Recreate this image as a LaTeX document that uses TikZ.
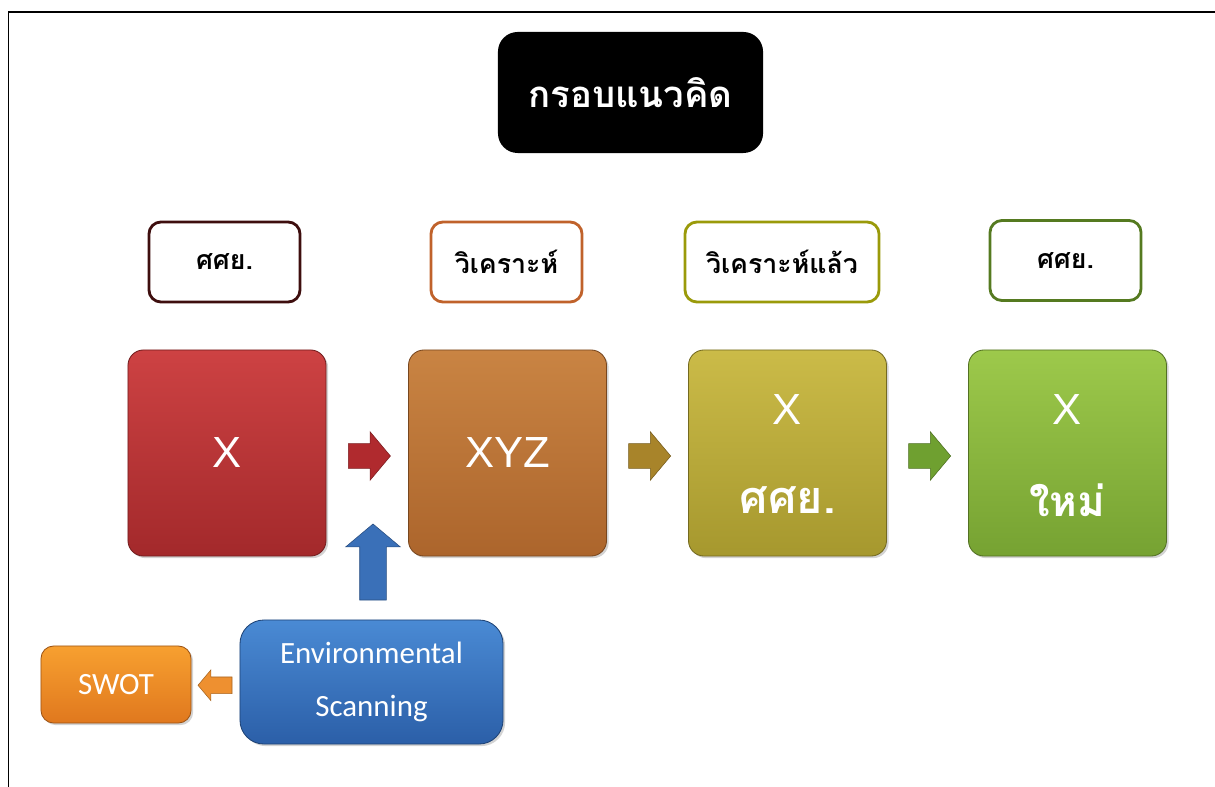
\documentclass[tikz,border=0pt]{standalone}
\usepackage{fontspec}
\setmainfont{Liberation Sans}
\newfontfamily\thaifont[Script=Thai]{Loma}
\newfontfamily\calfont{Carlito}
\usetikzlibrary{shapes.arrows,shadows,calc}

\definecolor{tagA}{HTML}{3E0E0E}
\definecolor{tagB}{HTML}{C0622B}
\definecolor{tagC}{HTML}{9A9A0A}
\definecolor{tagD}{HTML}{557A20}
\definecolor{redT}{HTML}{CD4243}
\definecolor{redB}{HTML}{A3292B}
\definecolor{oraT}{HTML}{C98443}
\definecolor{oraB}{HTML}{AC652C}
\definecolor{olvT}{HTML}{CBBB48}
\definecolor{olvB}{HTML}{A6982E}
\definecolor{grnT}{HTML}{9DC94B}
\definecolor{grnB}{HTML}{76A232}
\definecolor{bluT}{HTML}{4A8AD4}
\definecolor{bluB}{HTML}{2B5FA8}
\definecolor{swoT}{HTML}{F7A030}
\definecolor{swoB}{HTML}{E0781E}
\definecolor{redA}{HTML}{B02A2E}
\definecolor{olvA}{HTML}{A8842A}
\definecolor{grnA}{HTML}{6FA030}
\definecolor{bluA}{HTML}{3A70B8}
\definecolor{swoA}{HTML}{EE9030}

\begin{document}
\begin{tikzpicture}[x=0.025cm, y=-0.025cm,
    tagbox/.style = {draw=#1, line width=2pt, fill=white, rounded corners=8.5pt,
                minimum width=3.775cm, minimum height=2cm, inner sep=0pt,
                font=\thaifont\bfseries\fontsize{19}{22}\selectfont},
    tile/.style 2 args = {top color=#1, bottom color=#2, draw=#2!70!black,
                line width=0.6pt, rounded corners=11pt,
                minimum width=4.95cm, minimum height=5.15cm, inner sep=0pt,
                text=white, font=\fontsize{31}{34}\selectfont,
                drop shadow={opacity=0.35, shadow xshift=1.5pt, shadow yshift=-1.5pt}},
    flow/.style = {single arrow, fill=#1, draw=#1!70!black, line width=0.4pt,
                minimum height=1.05cm, inner sep=0.3cm,
                single arrow head extend=0.3cm, single arrow tip angle=100},
    word/.style = {text=white, inner sep=0pt}
                    ]
        \useasboundingbox (0,0) rectangle (1215,787);
        % frame
        \draw [line width=1.4pt] (8.5,787) -- (8.5,12) -- (1215,12);
        % title
        \node[fill=black, rounded corners=14pt, minimum width=6.625cm,
              minimum height=3.025cm, text=white,
              font=\thaifont\bfseries\fontsize{26}{30}\selectfont] (title) at (630.5,92.5) {กรอบแนวคิด};
        % tags above the steps
        \node[tagbox=tagA] (tag1) at (224.5,262) {ศศย.};
        \node[tagbox=tagB] (tag2) at (506.5,262) {วิเคราะห์};
        \node[tagbox=tagC, minimum width=4.85cm] (tag3) at (782,262) {วิเคราะห์แล้ว};
        \node[tagbox=tagD] (tag4) at (1065.5,260.5) {ศศย.};
        % steps
        \node[tile={redT}{redB}] (sq1) at (227,453) {};
        \node[tile={oraT}{oraB}] (sq2) at (507.5,453) {};
        \node[tile={olvT}{olvB}] (sq3) at (787.5,453) {};
        \node[tile={grnT}{grnB}] (sq4) at (1067.5,453) {};
        \node[word, font=\fontsize{31}{34}\selectfont] (x1) at (sq1) {X};
        \node[word, font=\fontsize{31}{34}\selectfont] (x2) at (sq2) {XYZ};
        \foreach \s in {3,4}
            \node[word, font=\fontsize{31}{34}\selectfont] (x\s) at ([yshift=1.075cm]sq\s.center) {X};
        \node[word, font=\thaifont\bfseries\fontsize{32}{34}\selectfont] (t3) at ([yshift=-1.175cm]sq3.center) {ศศย.};
        \node[word, font=\thaifont\bfseries\fontsize{30}{32}\selectfont] (t4) at ([yshift=-1.175cm]sq4.center) {ใหม่};
        % block arrows between steps
        \node[flow=redA] (a12) at ($(sq1.east)!0.5!(sq2.west)+(-3,3)$) {};
        \node[flow=olvA] (a23) at ($(sq2.east)!0.5!(sq3.west)+(-3,3)$) {};
        \node[flow=grnA] (a34) at ($(sq3.east)!0.5!(sq4.west)+(-3,3)$) {};
        % scanning
        \node[tile={bluT}{bluB}, minimum width=6.575cm, minimum height=3.1cm,
              rounded corners=17pt, align=center,
              font=\calfont\fontsize{22}{38}\selectfont] (env) at (371.5,682) {Environmental\\Scanning};
        \node[tile={swoT}{swoB}, minimum width=3.75cm, minimum height=1.925cm,
              rounded corners=9pt, font=\calfont\fontsize{22}{26}\selectfont] (swot) at (116,684.5) {SWOT};
        \node[flow=bluA, rotate=90, minimum height=1.9cm, inner sep=0.325cm,
              single arrow head extend=0.35cm] (up) at ($(env.north)+(1.5,-52)$) {};
        \node[flow=swoA, rotate=180, minimum height=0.85cm, inner sep=0.2cm,
              single arrow head extend=0.175cm] (back) at ($(swot.east)!0.5!(env.west)+(3,2)$) {};
    \end{tikzpicture}
\end{document}
